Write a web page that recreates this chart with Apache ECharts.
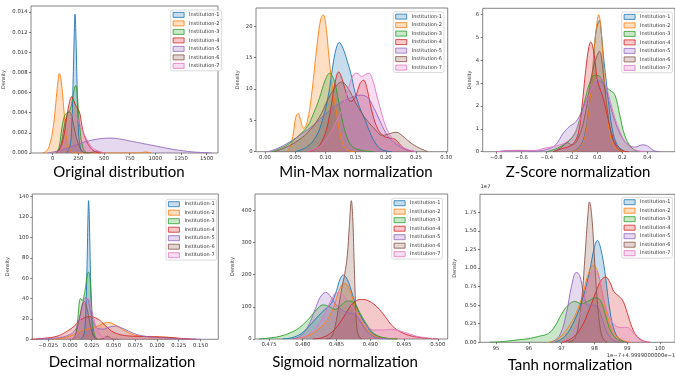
<!DOCTYPE html>
<html>
<head>
<meta charset="utf-8">
<script src="https://cdn.jsdelivr.net/npm/echarts@6/dist/echarts.min.js"></script>
<style>
html,body{margin:0;padding:0;background:#fff}
#chart{width:675px;height:379px}
</style>
</head>
<body>
<div id="chart"></div>
<script>
var names = ['Institution-1', 'Institution-2', 'Institution-3', 'Institution-4', 'Institution-5', 'Institution-6', 'Institution-7'];
var colors = ['#1f77b4', '#ff7f0e', '#2ca02c', '#d62728', '#9467bd', '#8c564b', '#e377c2'];

// Original distribution: one [x, density] list per institution
var origCurves = [
  [[130,0],[165,0.0005],[185,0.0025],[200,0.0075],[210,0.0118],[218,0.0138],[226,0.0118],[236,0.0075],[250,0.0025],[268,0.0006],[290,0.0001],[330,0]],
  [[-100,0],[-60,0.0002],[-30,0.0008],[0,0.0022],[20,0.0038],[40,0.006],[55,0.0074],[65,0.0079],[78,0.0075],[95,0.006],[110,0.0042],[125,0.0025],[145,0.001],[170,0.0003],[210,0],[850,0],[900,0.0001],[960,0]],
  [[30,0],[60,0.0005],[90,0.0025],[115,0.0037],[140,0.004],[165,0.0042],[190,0.0052],[210,0.0063],[224,0.0067],[238,0.006],[252,0.004],[270,0.002],[290,0.0007],[320,0.0001],[360,0]],
  [[40,0],[80,0.0006],[110,0.0018],[140,0.0037],[165,0.0051],[185,0.0056],[205,0.0052],[230,0.0046],[260,0.0041],[280,0.003],[300,0.002],[330,0.0012],[370,0.0005],[420,0.0001],[470,0]],
  [[-50,0],[50,0.0002],[150,0.0005],[250,0.0009],[350,0.0012],[450,0.0014],[550,0.00148],[650,0.0014],[750,0.0012],[850,0.001],[950,0.0008],[1050,0.0006],[1150,0.0004],[1250,0.00025],[1350,0.00012],[1450,0.00005],[1550,0]],
  [[40,0],[80,0.0008],[110,0.0025],[140,0.0038],[160,0.0041],[180,0.0038],[210,0.0025],[240,0.0012],[280,0.0003],[330,0],[400,0.0001],[430,0.0002],[460,0.0001],[490,0]],
  [[40,0],[90,0.0005],[130,0.0018],[170,0.0032],[200,0.0038],[230,0.0036],[260,0.003],[300,0.002],[340,0.0012],[380,0.0006],[420,0.0003],[470,0.0001],[520,0]]
];
var origXTicks = [0, 250, 500, 750, 1000, 1250, 1500];
var origYTicks = [0, 0.002, 0.004, 0.006, 0.008, 0.010, 0.012, 0.014];

// Min-Max normalization
var minmaxCurves = [
  [[0.05,0],[0.07,0.8],[0.085,2.5],[0.095,5],[0.105,9],[0.112,13.5],[0.118,16.5],[0.123,17.4],[0.129,16.5],[0.136,14.5],[0.142,12.5],[0.149,9.5],[0.157,7],[0.166,5],[0.174,3],[0.184,1.2],[0.194,0.3],[0.21,0]],
  [[0.036,0],[0.042,0.8],[0.047,3],[0.051,5.5],[0.055,6.1],[0.059,5],[0.064,3.7],[0.07,4.8],[0.077,9],[0.085,16],[0.092,21],[0.0965,21.8],[0.101,20],[0.106,15],[0.112,10],[0.118,6.5],[0.124,3],[0.13,1],[0.138,0.2],[0.15,0]],
  [[0.01,0],[0.025,0.5],[0.04,1.3],[0.055,2.5],[0.07,4],[0.08,6],[0.09,8.5],[0.1,11.5],[0.107,12.5],[0.114,11.5],[0.12,9],[0.127,5.5],[0.135,2.5],[0.145,0.8],[0.16,0.2],[0.18,0]],
  [[0.07,0],[0.085,0.5],[0.095,1.8],[0.103,4],[0.11,7.5],[0.116,11],[0.122,12.7],[0.128,11.5],[0.134,9.5],[0.142,8],[0.15,8.8],[0.157,10.8],[0.163,11.4],[0.169,10],[0.176,6.8],[0.185,4],[0.195,2.6],[0.205,2.2],[0.215,2],[0.225,1],[0.235,0.3],[0.25,0]],
  [[0.005,0],[0.02,0.5],[0.04,1.5],[0.06,2.8],[0.08,4.2],[0.1,6],[0.12,7.5],[0.14,8.5],[0.155,9],[0.168,8.8],[0.18,7],[0.19,5],[0.2,3],[0.21,1.8],[0.22,1],[0.235,0.3],[0.25,0]],
  [[0.015,0],[0.03,0.5],[0.05,1.5],[0.07,3],[0.09,5.5],[0.105,8.5],[0.118,10.5],[0.127,11.1],[0.137,10.2],[0.15,7.8],[0.165,5.5],[0.18,3.8],[0.195,2.6],[0.207,2.9],[0.217,3.1],[0.228,2.5],[0.24,1.5],[0.255,0.6],[0.27,0]],
  [[0.07,0],[0.09,0.8],[0.105,2.5],[0.118,4.8],[0.128,7],[0.138,10],[0.146,12.2],[0.152,12.5],[0.16,12],[0.166,12.3],[0.172,12.5],[0.178,11.5],[0.185,9],[0.192,6.5],[0.2,4],[0.21,2.2],[0.22,1.2],[0.235,0.4],[0.25,0]]
];
var minmaxXTicks = [0, 0.05, 0.10, 0.15, 0.20, 0.25, 0.30];
var minmaxYTicks = [0, 5, 10, 15, 20];

// Z-Score normalization
var zscoreCurves = [
  [[-0.2,0],[-0.14,0.2],[-0.1,0.7],[-0.07,1.7],[-0.04,3.2],[-0.015,5],[0.005,5.6],[0.018,5.75],[0.03,5.4],[0.05,4.2],[0.07,3.2],[0.09,2.2],[0.12,1],[0.16,0.3],[0.22,0]],
  [[-0.2,0],[-0.14,0.15],[-0.1,0.6],[-0.07,1.6],[-0.04,3.2],[-0.02,4.7],[0,5.7],[0.012,6.0],[0.025,5.7],[0.045,4.3],[0.065,2.6],[0.09,1.2],[0.12,0.4],[0.16,0.1],[0.22,0]],
  [[-0.4,0],[-0.3,0.2],[-0.2,0.6],[-0.15,1.2],[-0.1,2.2],[-0.06,3],[-0.02,3.35],[0.02,3.3],[0.06,2.9],[0.1,2.7],[0.14,2.5],[0.18,1.6],[0.22,0.7],[0.27,0.2],[0.32,0]],
  [[-0.35,0],[-0.27,0.15],[-0.2,0.3],[-0.15,0.8],[-0.12,2],[-0.09,3.6],[-0.065,4.6],[-0.05,4.8],[-0.035,4.6],[-0.015,3.9],[0,3.2],[0.02,2.8],[0.05,2.3],[0.08,1.6],[0.11,0.9],[0.15,0.3],[0.2,0.05],[0.25,0]],
  [[-0.78,0],[-0.7,0.05],[-0.6,0.05],[-0.5,0.03],[-0.4,0.1],[-0.33,0.3],[-0.27,0.8],[-0.22,1.1],[-0.17,1.3],[-0.12,1.8],[-0.07,2.5],[-0.02,3.0],[0.02,3.1],[0.06,2.8],[0.1,2.1],[0.15,1.2],[0.2,0.6],[0.25,0.3],[0.3,0.2],[0.36,0.3],[0.4,0.25],[0.45,0.05],[0.5,0]],
  [[-0.35,0],[-0.28,0.2],[-0.24,0.4],[-0.2,0.3],[-0.15,0.6],[-0.1,1.5],[-0.06,2.8],[-0.03,3.7],[0,4.2],[0.018,4.4],[0.035,4.1],[0.06,2.8],[0.09,1.5],[0.12,0.6],[0.16,0.15],[0.2,0]],
  [[-0.8,0],[-0.7,0.05],[-0.6,0.06],[-0.5,0.05],[-0.42,0.15],[-0.33,0.25],[-0.25,0.4],[-0.18,0.8],[-0.12,1.6],[-0.07,2.4],[-0.02,3.0],[0.018,3.25],[0.06,3.0],[0.1,2.3],[0.14,1.5],[0.18,0.9],[0.22,0.45],[0.27,0.15],[0.32,0.05],[0.38,0]]
];
var zscoreXTicks = [-0.8, -0.6, -0.4, -0.2, 0, 0.2, 0.4];
var zscoreYTicks = [0, 1, 2, 3, 4, 5, 6];

// Decimal normalization
var decimalCurves = [
  [[0.012,0],[0.015,2],[0.017,10],[0.0185,35],[0.0198,80],[0.0207,120],[0.0214,136],[0.0222,120],[0.0232,80],[0.0245,35],[0.026,10],[0.028,2],[0.031,0]],
  [[-0.02,0],[-0.005,2],[0.005,5],[0.015,9],[0.025,11],[0.032,13],[0.038,15.5],[0.043,16.5],[0.05,15],[0.058,11],[0.066,7],[0.075,4],[0.085,3],[0.1,2.5],[0.115,1.8],[0.125,1],[0.14,0]],
  [[0.002,0],[0.006,4],[0.009,20],[0.011,38],[0.0125,40],[0.014,38],[0.016,42],[0.018,52],[0.02,64],[0.0214,66],[0.023,60],[0.0245,40],[0.026,18],[0.028,5],[0.031,0]],
  [[-0.045,0],[-0.03,1],[-0.015,3],[-0.005,7],[0.005,13],[0.012,19],[0.022,22.2],[0.032,20],[0.04,14],[0.048,8],[0.056,5],[0.065,3.5],[0.08,2.8],[0.095,2.5],[0.11,2],[0.12,1.5],[0.13,0.6],[0.145,0]],
  [[-0.04,0],[-0.02,1],[-0.005,3],[0.005,8],[0.01,18],[0.014,32],[0.0176,41],[0.021,38],[0.025,22],[0.03,12],[0.038,10],[0.045,12],[0.052,13],[0.06,11],[0.07,7],[0.08,4],[0.09,2.5],[0.1,1.8],[0.11,1.2],[0.125,0.5],[0.15,0]],
  [[0.003,0],[0.006,3],[0.009,12],[0.012,25],[0.0145,35],[0.0164,37],[0.019,32],[0.022,20],[0.025,8],[0.028,2],[0.032,0],[0.038,0.5],[0.043,3],[0.048,0.5],[0.055,0]],
  [[0,0],[0.006,3],[0.01,12],[0.014,28],[0.018,38],[0.021,40],[0.024,32],[0.028,18],[0.032,8],[0.036,3],[0.042,1],[0.05,0]]
];
var decimalXTicks = [-0.025, 0, 0.025, 0.05, 0.075, 0.1, 0.125, 0.15];
var decimalYTicks = [0, 20, 40, 60, 80, 100, 120, 140];

// Sigmoid normalization
var sigmoidCurves = [
  [[0.477,0],[0.479,8],[0.4805,30],[0.482,65],[0.4832,90],[0.4842,110],[0.485,150],[0.4855,185],[0.486,199],[0.4866,185],[0.4872,150],[0.4878,110],[0.4885,75],[0.4895,40],[0.4905,15],[0.492,3],[0.494,0]],
  [[0.479,0],[0.4805,8],[0.482,25],[0.4835,55],[0.4845,95],[0.4852,140],[0.4858,168],[0.4862,173],[0.4868,160],[0.4875,120],[0.4883,75],[0.489,45],[0.49,18],[0.4915,5],[0.494,0]],
  [[0.4735,0],[0.475,3],[0.4765,8],[0.478,18],[0.4795,35],[0.481,65],[0.482,90],[0.483,106],[0.484,100],[0.4848,92],[0.4857,105],[0.4866,118],[0.4875,115],[0.4885,80],[0.4895,45],[0.4905,18],[0.492,4],[0.494,0]],
  [[0.4815,0],[0.483,5],[0.4845,25],[0.4858,60],[0.487,100],[0.488,120],[0.4888,123],[0.4898,118],[0.491,100],[0.4922,70],[0.4933,40],[0.4945,22],[0.496,10],[0.498,3],[0.5,0]],
  [[0.4785,0],[0.4797,10],[0.4808,40],[0.4818,90],[0.4826,130],[0.4834,145],[0.4842,130],[0.4848,110],[0.4855,95],[0.4862,85],[0.487,80],[0.4878,75],[0.4885,55],[0.4893,30],[0.4903,10],[0.4915,2],[0.493,0]],
  [[0.4835,0],[0.4842,5],[0.4848,40],[0.4854,110],[0.4858,160],[0.4862,200],[0.4866,260],[0.4869,350],[0.4872,430],[0.4874,380],[0.4876,250],[0.4878,120],[0.488,40],[0.4883,8],[0.4888,0]],
  [[0.479,0],[0.4805,10],[0.482,35],[0.4833,80],[0.4843,125],[0.485,144],[0.4858,140],[0.4866,120],[0.4875,95],[0.4885,65],[0.4895,40],[0.4905,28],[0.4918,28],[0.493,30],[0.494,27],[0.4955,18],[0.497,8],[0.499,2],[0.5,0]]
];
var sigmoidXTicks = [0.475, 0.48, 0.485, 0.49, 0.495, 0.5];
var sigmoidYTicks = [0, 100, 200, 300, 400];

// Tanh normalization (x in 1e-7 offset units, density in 1e7)
var tanhCurves = [
  [[96.8,0],[97.1,0.08],[97.4,0.3],[97.65,0.6],[97.85,0.95],[98.0,1.28],[98.09,1.37],[98.2,1.25],[98.32,0.95],[98.45,0.5],[98.58,0.2],[98.75,0.05],[99.0,0]],
  [[96.6,0],[96.9,0.05],[97.2,0.2],[97.45,0.4],[97.65,0.65],[97.8,0.9],[97.97,1.04],[98.1,0.95],[98.25,0.65],[98.4,0.35],[98.6,0.12],[98.85,0.03],[99.1,0]],
  [[94.8,0],[95.2,0.01],[95.6,0.03],[96.0,0.05],[96.3,0.08],[96.6,0.12],[96.8,0.22],[97.0,0.38],[97.2,0.5],[97.4,0.55],[97.6,0.52],[97.8,0.55],[98.05,0.6],[98.2,0.55],[98.35,0.35],[98.5,0.15],[98.7,0.04],[98.9,0]],
  [[97.0,0],[97.3,0.05],[97.6,0.2],[97.85,0.45],[98.05,0.68],[98.2,0.83],[98.34,0.88],[98.48,0.8],[98.6,0.68],[98.75,0.62],[98.88,0.55],[99.0,0.4],[99.15,0.2],[99.3,0.08],[99.5,0.02],[99.7,0]],
  [[96.7,0],[96.95,0.1],[97.15,0.4],[97.3,0.75],[97.45,0.94],[97.55,0.9],[97.68,0.65],[97.8,0.5],[97.95,0.5],[98.1,0.47],[98.25,0.3],[98.4,0.12],[98.6,0.02],[98.8,0]],
  [[97.2,0],[97.4,0.05],[97.52,0.25],[97.62,0.6],[97.72,1.2],[97.8,1.7],[97.85,1.89],[97.92,1.7],[98.0,1.15],[98.08,0.6],[98.16,0.25],[98.26,0.05],[98.4,0]],
  [[97.0,0],[97.3,0.1],[97.55,0.35],[97.75,0.7],[97.9,0.93],[98.0,0.97],[98.12,0.9],[98.28,0.6],[98.45,0.35],[98.65,0.22],[98.85,0.2],[99.0,0.2],[99.15,0.15],[99.3,0.07],[99.5,0.01],[99.7,0]]
];
var tanhXTicks = [95, 96, 97, 98, 99, 100];
var tanhYTicks = [0, 0.25, 0.5, 0.75, 1.0, 1.25, 1.5, 1.75];

function fixed(n) {
  return function (v) {
    return v.toFixed(n).replace('-', '\u2212');
  };
}

// layout of each subplot (pixels)
var panels = [
  {curves: origCurves, xt: origXTicks, yt: origYTicks, xf: fixed(0), yf: fixed(3),
   grid: [31, 6, 187, 147], x: [-211, 1610], ymax: 0.0146, gap: 25,
   title: 'Original distribution', tx: 119, ty: 172, lg: [170.7, 10]},
  {curves: minmaxCurves, xt: minmaxXTicks, yt: minmaxYTicks, xf: fixed(2), yf: fixed(0),
   grid: [256, 8, 191.7, 143.7], x: [-0.0149, 0.3025], ymax: 22.9, gap: 16,
   title: 'Min-Max normalization', tx: 356, ty: 172, lg: [393.3, 11.7]},
  {curves: zscoreCurves, xt: zscoreXTicks, yt: zscoreYTicks, xf: fixed(1), yf: fixed(0),
   grid: [482.7, 8.3, 200, 143.4], x: [-0.908, 0.618], ymax: 6.28, gap: 10,
   title: 'Z-Score normalization', tx: 578, ty: 172, lg: [621.7, 12]},
  {curves: decimalCurves, xt: decimalXTicks, yt: decimalYTicks, xf: fixed(3), yf: fixed(0),
   grid: [32.3, 194, 186, 145.3], x: [-0.0433, 0.1705], ymax: 142.6, gap: 22,
   title: 'Decimal normalization', tx: 122, ty: 362, lg: [166, 199.3]},
  {curves: sigmoidCurves, xt: sigmoidXTicks, yt: sigmoidYTicks, xf: fixed(3), yf: fixed(0),
   grid: [255, 194, 192.7, 145], x: [0.47293, 0.50147], ymax: 450.7, gap: 20,
   title: 'Sigmoid normalization', tx: 345, ty: 362, lg: [391.7, 198.3]},
  {curves: tanhCurves, xt: tanhXTicks, yt: tanhYTicks, xf: fixed(0), yf: fixed(2),
   grid: [480, 194.3, 210, 148], x: [94.51, 100.46], ymax: 1.992, gap: 23,
   title: 'Tanh normalization', tx: 570, ty: 365, lg: [621.7, 197.3]}
];

var smallFont = 'DejaVu Sans';
var grids = [], xAxes = [], yAxes = [], series = [], legends = [], texts = [];

panels.forEach(function (p, i) {
  grids.push({
    left: p.grid[0], top: p.grid[1], width: p.grid[2], height: p.grid[3],
    show: true, borderColor: '#666', borderWidth: 0.8, backgroundColor: 'transparent'
  });
  xAxes.push({
    gridIndex: i, type: 'value', min: p.x[0], max: p.x[1], position: 'bottom',
    axisLine: {show: false, onZero: false}, splitLine: {show: false},
    axisTick: {show: true, length: 2, lineStyle: {color: '#444', width: 0.7}, customValues: p.xt},
    axisLabel: {customValues: p.xt, formatter: p.xf, fontSize: 5.3, fontFamily: smallFont, color: '#333', margin: 3.5}
  });
  yAxes.push({
    gridIndex: i, type: 'value', min: 0, max: p.ymax, position: 'left',
    name: 'Density', nameLocation: 'middle', nameGap: p.gap,
    nameTextStyle: {fontSize: 5, fontFamily: smallFont, color: '#333'},
    axisLine: {show: false, onZero: false}, splitLine: {show: false},
    axisTick: {show: true, length: 2, lineStyle: {color: '#444', width: 0.7}, customValues: p.yt},
    axisLabel: {customValues: p.yt, formatter: p.yf, fontSize: 5.3, fontFamily: smallFont, color: '#333', margin: 3.5}
  });
  p.curves.forEach(function (c, k) {
    series.push({
      type: 'line', name: names[k], xAxisIndex: i, yAxisIndex: i,
      data: c, smooth: 0.4, showSymbol: false, symbol: 'none', silent: true,
      lineStyle: {color: colors[k], width: 0.9},
      itemStyle: {color: colors[k]},
      areaStyle: {color: colors[k], opacity: 0.25}
    });
  });
  legends.push({
    orient: 'vertical', left: p.lg[0], top: p.lg[1],
    itemWidth: 11, itemHeight: 5, itemGap: 2.7, icon: 'rect', selectedMode: false,
    padding: [2, 2, 2, 2], backgroundColor: 'rgba(255,255,255,0.85)',
    borderColor: '#ccc', borderWidth: 0.7, borderRadius: 2,
    textStyle: {fontSize: 5, fontFamily: smallFont, color: '#333', lineHeight: 5},
    data: names.map(function (n, k) {
      return {name: n, itemStyle: {color: echarts.color.modifyAlpha(colors[k], 0.25), borderColor: colors[k], borderWidth: 0.8}};
    })
  });
  texts.push({
    type: 'text', x: p.tx, y: p.ty, z: 100,
    style: {text: p.title, fontSize: 15, fontFamily: 'Lato', fill: '#000', align: 'center', verticalAlign: 'middle', textAlign: 'center', textVerticalAlign: 'middle'}
  });
});

texts.push({type: 'text', x: 480.5, y: 187, z: 100,
  style: {text: '1e7', fontSize: 5.3, fontFamily: smallFont, fill: '#333', verticalAlign: 'middle', textVerticalAlign: 'middle'}});
texts.push({type: 'text', x: 606.7, y: 355.5, z: 100,
  style: {text: '1e\u22127+4.9999000000e\u22121', fontSize: 5.3, fontFamily: smallFont, fill: '#333', verticalAlign: 'middle', textVerticalAlign: 'middle'}});

var chart = echarts.init(document.getElementById('chart'));
chart.setOption({
  animation: false,
  backgroundColor: '#fff',
  grid: grids,
  xAxis: xAxes,
  yAxis: yAxes,
  legend: legends,
  series: series,
  graphic: texts
});
</script>
</body>
</html>
